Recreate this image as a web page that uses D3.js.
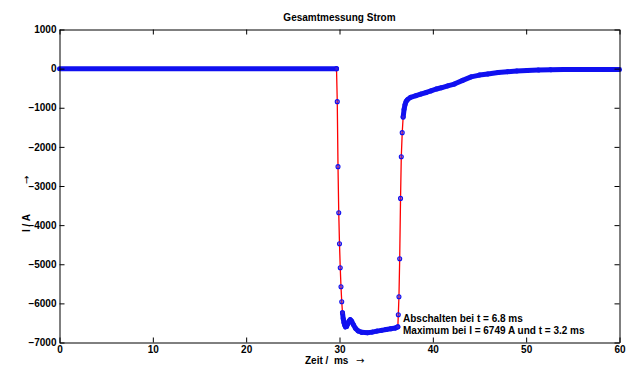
<!DOCTYPE html>
<html>
<head>
<meta charset="utf-8">
<script src="https://cdn.jsdelivr.net/npm/d3@7"></script>
<style>
  html, body { margin: 0; padding: 0; background: #fff; }
  svg { display: block; }
  text { font-family: "Liberation Sans", Arial, sans-serif; font-weight: bold; font-size: 10px; fill: #000; }
  text.arrow { font-family: "DejaVu Sans", sans-serif; font-weight: normal; font-size: 10px; }
</style>
</head>
<body>
<svg id="chart" width="640" height="385"></svg>
<script>
// ---- data ----
const chartTitle = "Gesamtmessung Strom";
const xAxisLabel = "Zeit /  ms";
const yAxisLabel = "I / A";
const annotationLines = ["Abschalten bei t = 6.8 ms", "Maximum bei I = 6749 A und t = 3.2 ms"];
const xTicks = [0, 10, 20, 30, 40, 50, 60];
const yTicks = [1000, 0, -1000, -2000, -3000, -4000, -5000, -6000, -7000];

// time in ms
const timeMs = [
  0, 29.68,
  29.76, 29.84, 29.92, 30.00, 30.08, 30.16, 30.24, 30.32, 30.40, 30.48,
  30.56, 30.64, 30.76, 30.90, 31.02, 31.15, 31.30, 31.48, 31.72, 32.00, 32.40,
  33.00, 33.50, 34.00, 34.50, 35.00, 35.50, 36.00, 36.25,
  36.30, 36.37, 36.45, 36.54, 36.62, 36.72, 36.82, 36.92, 37.02, 37.14,
  37.30, 37.62, 38.2, 38.7, 39.3, 39.8, 40.4, 40.9, 41.6, 42.3, 43.2, 44.1,
  45.0, 45.9, 47.0, 48.0, 49.0, 50.1, 51.3, 52.6, 54.0, 56.0, 58.4, 60.0
];
// current in A
const currentA = [
  0, 0,
  -844, -2506, -3683, -4475, -5089, -5575, -5959, -6240, -6394, -6497,
  -6560, -6600, -6590, -6520, -6450, -6415, -6450, -6540, -6640, -6705, -6740,
  -6749, -6735, -6710, -6690, -6670, -6650, -6630, -6600,
  -6292, -5831, -4859, -3317, -2251, -1637, -1235, -1041, -921, -836,
  -790, -734, -690, -650, -610, -570, -520, -490, -440, -395, -300, -210,
  -165, -135, -100, -78, -62, -50, -38, -28, -25, -22, -22, -20
];

// ---- layout ----
const plotL = 59.5, plotR = 619.5, plotT = 29.5, plotB = 342.5;
const svg = d3.select("#chart");

const x = d3.scaleLinear().domain([0, 60]).range([plotL, plotR]);
const y = d3.scaleLinear().domain([-7000, 1000]).range([plotB, plotT]);

const pts = timeMs.map((t, i) => ({ t, v: currentA[i], px: x(t), py: y(currentA[i]) }));

// red connecting line
const line = d3.line().x(d => d.px).y(d => d.py);
svg.append("path").datum(pts)
  .attr("d", line)
  .attr("fill", "none")
  .attr("stroke", "#ff0000")
  .attr("stroke-width", 1.3);

// dense sample band (overlapping markers) where samples lie close together
const bandSegs = [];
const markerIdx = new Set();
for (let i = 0; i < pts.length - 1; i++) {
  const a = pts[i], b = pts[i + 1];
  const dx = Math.abs(b.px - a.px), dy = Math.abs(b.py - a.py);
  if (dy <= dx * 1.5 || Math.hypot(dx, dy) < 10) bandSegs.push([a, b]);
  else { markerIdx.add(i); markerIdx.add(i + 1); }
}
svg.append("g").selectAll("path").data(bandSegs).join("path")
  .attr("d", d => line(d))
  .attr("fill", "none")
  .attr("stroke", "#1010f0")
  .attr("stroke-width", 5)
  .attr("stroke-linecap", "round")
  .attr("stroke-linejoin", "round");

// individual sample markers on the fast transitions
svg.append("g").selectAll("circle").data(pts.filter((d, i) => markerIdx.has(i))).join("circle")
  .attr("cx", d => d.px).attr("cy", d => d.py)
  .attr("r", 2)
  .attr("fill", "rgba(90,40,200,0.55)")
  .attr("stroke", "#1010f0")
  .attr("stroke-width", 1.1);

// ---- axes ----
const styleAxis = g => {
  g.select(".domain").attr("stroke", "#000").attr("stroke-width", 1);
  g.selectAll(".tick line").attr("stroke", "#000");
  g.selectAll("text").attr("font-family", null).attr("font-size", null);
};
svg.append("g").attr("transform", `translate(0,${plotB})`)
  .call(d3.axisBottom(x).tickValues(xTicks).tickSizeInner(-5).tickSizeOuter(0).tickPadding(3).tickFormat(d3.format("d")))
  .call(styleAxis)
  .call(g => g.selectAll("text").attr("dy", "0.71em"));
svg.append("g").attr("transform", `translate(${plotL},0)`)
  .call(d3.axisLeft(y).tickValues(yTicks).tickSizeInner(-5).tickSizeOuter(0).tickPadding(3).tickFormat(d3.format("d")))
  .call(styleAxis);
svg.append("g").attr("transform", `translate(0,${plotT})`)
  .call(d3.axisTop(x).tickValues(xTicks).tickSizeInner(-5).tickSizeOuter(0).tickFormat(""))
  .call(styleAxis);
svg.append("g").attr("transform", `translate(${plotR},0)`)
  .call(d3.axisRight(y).tickValues(yTicks).tickSizeInner(-5).tickSizeOuter(0).tickFormat(""))
  .call(styleAxis);

// ---- texts ----
svg.append("text").attr("x", (plotL + plotR) / 2).attr("y", 21).attr("text-anchor", "middle").text(chartTitle);

svg.append("text").attr("x", 305).attr("y", 364).attr("xml:space", "preserve").text(xAxisLabel);
svg.append("text").attr("class", "arrow").attr("x", 356).attr("y", 364).text("\u2192");

svg.append("text").attr("transform", "translate(30,232) rotate(-90)").text(yAxisLabel);
svg.append("text").attr("class", "arrow").attr("transform", "translate(30,184) rotate(-90)").text("\u2192");

svg.append("g").selectAll("text").data(annotationLines).join("text")
  .attr("x", 403).attr("y", (d, i) => 322 + i * 11.5).text(d => d);
</script>
</body>
</html>
